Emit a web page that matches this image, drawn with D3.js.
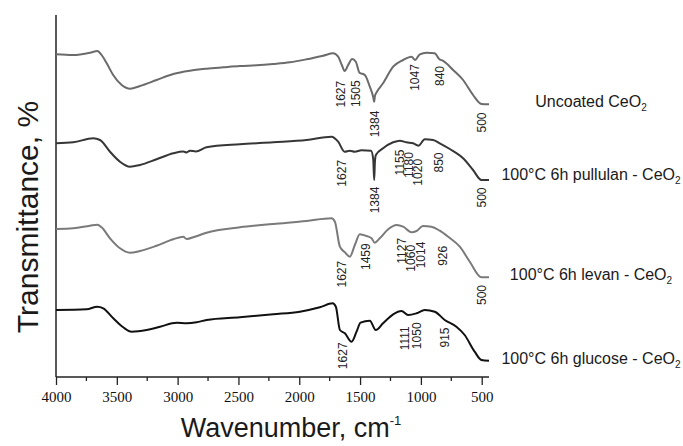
<!DOCTYPE html>
<html>
<head>
<meta charset="utf-8">
<script src="https://cdn.jsdelivr.net/npm/d3@7"></script>
<style>
	body { margin: 0; background: #fff; }
	svg { display: block; }
</style>
</head>
<body>
<div id="chart"></div>
<script>
(function() {
	"use strict";

	// spectra: [wavenumber, transmittance (offset, arbitrary units)]
	var uncoated = [
		[4000, 322.7], [3860, 322], [3720, 324.3], [3660, 326], [3625, 322], [3583, 313.7],
		[3530, 302], [3460, 292], [3390, 288.3], [3310, 291], [3173, 297], [3036, 303],
		[2900, 306.3], [2762, 308.3], [2625, 309.7], [2488, 311], [2351, 311.7], [2214, 313],
		[2077, 314.7], [1940, 317.7], [1804, 321.3], [1721, 323.7], [1680, 320.3], [1650, 312],
		[1627, 306], [1598, 312], [1565, 318], [1535, 315.3], [1505, 304.3], [1461, 302],
		[1420, 290.3], [1392, 280], [1384, 275.3], [1378, 281], [1360, 285.5], [1311, 293.7],
		[1228, 310.3], [1146, 317], [1077, 320.3], [1047, 317], [1009, 322.7], [954, 324.3],
		[886, 323.7], [850, 318], [820, 316.3], [735, 307], [653, 297], [571, 282],
		[502, 273], [440, 272.7]
	];
	var pullulan = [
		[4000, 233.7], [3858, 234.7], [3694, 238.7], [3638, 237], [3556, 225.3], [3474, 215.3],
		[3392, 210.3], [3310, 212], [3173, 217.7], [3036, 223.7], [2954, 225.5], [2926, 224.5],
		[2899, 226.3], [2850, 225.5], [2762, 229.7], [2488, 232.7], [2214, 234.7], [1940, 237],
		[1735, 240.3], [1680, 235.3], [1627, 225.3], [1584, 226.3], [1543, 225.3], [1488, 226.7],
		[1410, 226.3], [1392, 218], [1384, 197], [1378, 215], [1370, 222], [1311, 228.7],
		[1228, 234.7], [1173, 236.3], [1118, 234.7], [1064, 233.7], [1020, 231.3], [968, 237.7],
		[900, 237], [845, 233.7], [762, 228], [653, 218.7], [571, 207], [502, 197], [440, 197]
	];
	var levan = [
		[4000, 148], [3858, 148.7], [3721, 151.3], [3661, 152.3], [3625, 149.7], [3556, 138.7],
		[3474, 128.7], [3392, 124.3], [3310, 126], [3173, 131.3], [3036, 137.7], [2954, 140.3],
		[2926, 138], [2858, 140.3], [2762, 144.3], [2488, 149.7], [2214, 153], [1940, 156],
		[1735, 158.7], [1707, 155.3], [1666, 130.3], [1625, 124.7], [1584, 120.3], [1543, 132],
		[1502, 142.7], [1447, 141], [1406, 138.7], [1379, 134.3], [1338, 138.7], [1269, 147.7],
		[1200, 152], [1146, 150.3], [1077, 144.7], [1036, 146], [982, 151], [913, 150.3],
		[845, 146.3], [776, 140.3], [680, 130.3], [598, 115.3], [502, 99.7], [440, 99.7]
	];
	var glucose = [
		[4000, 67], [3748, 67.7], [3661, 70.3], [3611, 68.7], [3529, 58.7], [3447, 49.7],
		[3378, 45.3], [3255, 47], [3145, 50.3], [3008, 54.3], [2926, 53.7], [2844, 54.7],
		[2762, 57], [2488, 59.7], [2214, 62.7], [1995, 65.3], [1831, 69.7], [1726, 73.7],
		[1699, 70.3], [1666, 47], [1625, 43.7], [1570, 35.3], [1529, 45.3], [1496, 54.3],
		[1420, 56.3], [1371, 47], [1311, 53.7], [1228, 62.7], [1159, 66], [1105, 62],
		[1036, 63.7], [968, 67], [886, 65.3], [804, 57], [708, 50.3], [640, 42],
		[558, 25.3], [502, 17], [440, 16.3]
	];

	var seriesNames = ['Uncoated CeO', '100\u00b0C 6h pullulan - CeO', '100\u00b0C 6h levan - CeO', '100\u00b0C 6h glucose - CeO'];
	// transmittance level of each legend entry
	var seriesLabelLevels = [270, 197, 97, 13];

	// band labels: [text, wavenumber where placed, transmittance at label centre]
	var uncoatedBands = [['1627', 1662, 282.8], ['1505', 1537, 283.3], ['1384', 1381, 253], ['1047', 1050, 299.5], ['840', 845, 301], ['500', 502, 254.5]];
	var pullulanBands = [['1627', 1652, 203.7], ['1384', 1379, 177], ['1155', 1175, 214.5], ['1180', 1102, 212], ['1020', 1025, 204.7], ['850', 850, 214.5], ['500', 502, 179.5]];
	var levanBands = [['1627', 1650, 102.8], ['1459', 1455, 120.3], ['1127', 1159, 126.2], ['1060', 1083, 118.7], ['1014', 1005, 122], ['926', 818, 121.2], ['500', 502, 82]];
	var glucoseBands = [['1627', 1639, 21.2], ['1111', 1130, 38.7], ['1050', 1036, 41.2], ['915', 804, 39.5]];

	var xTicks = [4000, 3500, 3000, 2500, 2000, 1500, 1000, 500];
	var xMinorTicks = [3750, 3250, 2750, 2250, 1750, 1250, 750];

	var series = [
		{ values: uncoated, color: '#6b6b6b', bands: uncoatedBands },
		{ values: pullulan, color: '#363636', bands: pullulanBands },
		{ values: levan, color: '#7a7a7a', bands: levanBands },
		{ values: glucose, color: '#111111', bands: glucoseBands }
	];

	var width = 683, height = 446;
	var left = 56, right = 489, top = 15, bottom = 377;
	var sans = 'Arial, "Liberation Sans", sans-serif';
	var serif = '"Liberation Serif", "Times New Roman", "DejaVu Serif", serif';

	var x = d3.scaleLinear().domain([4000, 440]).range([left, right]);
	var y = d3.scaleLinear().domain([0, 362]).range([bottom, top]);

	var svg = d3.select('#chart')
		.append('svg')
		.attr('width', width)
		.attr('height', height);

	// x axis
	var xAxis = svg.append('g')
		.attr('transform', 'translate(0,' + bottom + ')')
		.call(d3.axisBottom(x).tickValues(xTicks).tickSize(8).tickPadding(6).tickFormat(d3.format('d')))
		.attr('font-family', serif)
		.attr('font-size', 15);
	xAxis.select('.domain').attr('d', 'M' + left + ',0H' + right).attr('stroke', '#222').attr('stroke-width', 1.5);
	xAxis.selectAll('.tick line').attr('stroke', '#222').attr('stroke-width', 1.3);
	xAxis.selectAll('.tick text')
		.attr('fill', '#111')
		.attr('font-family', serif)
		.style('font-family', serif)
		.style('font-size', '15px');

	svg.append('g')
		.attr('transform', 'translate(0,' + bottom + ')')
		.selectAll('line')
		.data(xMinorTicks)
		.enter()
		.append('line')
		.attr('x1', function (d) { return x(d); })
		.attr('x2', function (d) { return x(d); })
		.attr('y1', 0)
		.attr('y2', 4)
		.attr('stroke', '#222')
		.attr('stroke-width', 1.3);

	// y axis (no ticks)
	svg.append('line')
		.attr('x1', left)
		.attr('x2', left)
		.attr('y1', top)
		.attr('y2', bottom)
		.attr('stroke', '#222')
		.attr('stroke-width', 1.5);

	var line = d3.line()
		.x(function (d) { return x(d[0]); })
		.y(function (d) { return y(d[1]); })
		.curve(d3.curveMonotoneX);

	svg.selectAll('.spectrum')
		.data(series)
		.enter()
		.append('path')
		.classed('spectrum', true)
		.attr('d', function (s) { return line(s.values); })
		.attr('fill', 'none')
		.attr('stroke', function (s) { return s.color; })
		.attr('stroke-width', 2)
		.attr('stroke-linejoin', 'round');

	// band labels, rotated
	series.forEach(function (s) {
		svg.append('g')
			.selectAll('text')
			.data(s.bands)
			.enter()
			.append('text')
			.attr('transform', function (b) {
				return 'translate(' + (x(b[1]) + 4.3) + ',' + y(b[2]) + ') rotate(-90)';
			})
			.attr('text-anchor', 'middle')
			.style('font-family', sans)
			.style('font-size', '12px')
			.attr('fill', '#222')
			.text(function (b) { return b[0]; });
	});

	// series names on the right
	var names = svg.append('g')
		.selectAll('text')
		.data(seriesNames)
		.enter()
		.append('text')
		.attr('x', 591)
		.attr('y', function (d, i) { return y(seriesLabelLevels[i]); })
		.attr('text-anchor', 'middle')
		.style('font-family', sans)
		.style('font-size', '16px')
		.attr('fill', '#1a1a1a');
	names.append('tspan').text(function (d) { return d; });
	names.append('tspan')
		.attr('dy', 4)
		.style('font-size', '10px')
		.text('2');

	// axis titles
	var xTitle = svg.append('text')
		.attr('x', 291)
		.attr('y', 437)
		.attr('text-anchor', 'middle')
		.style('font-family', sans)
		.style('font-size', '27px')
		.attr('fill', '#1a1a1a');
	xTitle.append('tspan').text('Wavenumber, cm');
	xTitle.append('tspan')
		.attr('dy', -12)
		.style('font-size', '13px')
		.text('-1');

	svg.append('text')
		.attr('transform', 'translate(38,217) rotate(-90)')
		.attr('text-anchor', 'middle')
		.style('font-family', sans)
		.style('font-size', '30px')
		.attr('fill', '#1a1a1a')
		.text('Transmittance, %');
}());
</script>
</body>
</html>
